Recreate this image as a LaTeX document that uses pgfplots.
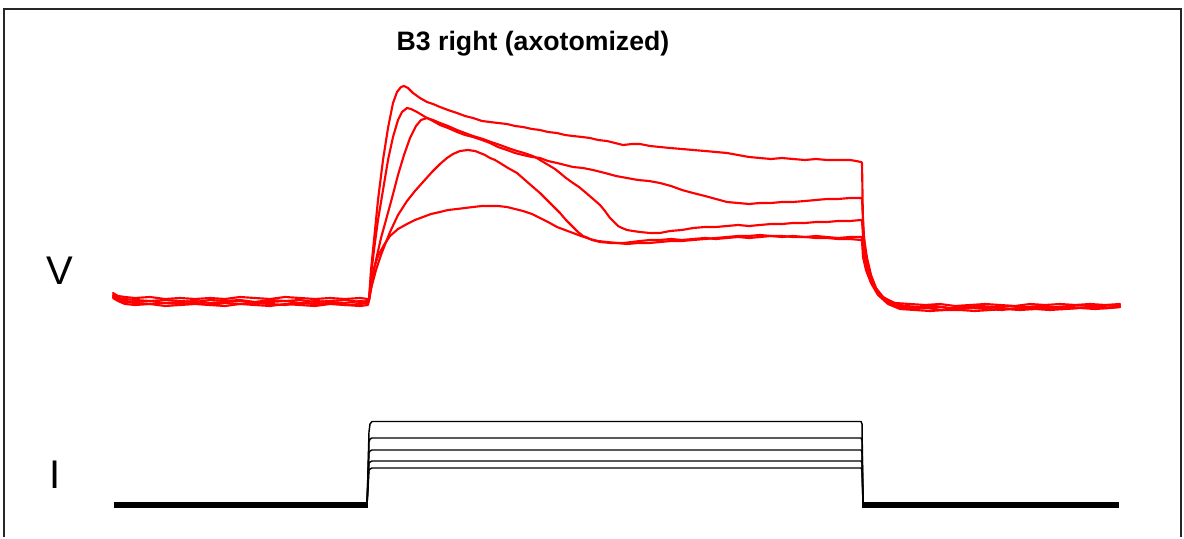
\documentclass[border=0pt]{standalone}
\usepackage{fontspec}
\setmainfont{Liberation Sans}
\usepackage{pgfplots}
\pgfplotsset{compat=1.18}
\definecolor{tr}{RGB}{255,0,0}
\begin{document}
\begin{tikzpicture}
\begin{axis}[
  scale only axis, width=888pt, height=402.75pt,
  xmin=0, xmax=1184, ymin=0, ymax=537, y dir=reverse,
  hide axis, clip=false,
  every axis plot/.append style={line join=round, line cap=round}
]
\path (axis cs:0,0) rectangle (axis cs:1184,537);
% frame
\draw[line width=1.6pt, black!85] (axis cs:4,537) -- (axis cs:4,9) -- (axis cs:1181,9) -- (axis cs:1181,537);
% labels
\node[anchor=base, font=\fontsize{20}{23}\selectfont\bfseries] at (axis cs:533,50.5) {B3 right (axotomized)};
\node[font=\fontsize{30}{34}\selectfont] at (axis cs:60,271) {V};
\node[font=\fontsize{30}{34}\selectfont] at (axis cs:55,475) {I};

% ---------------- voltage traces ----------------
\addplot[tr, line width=1.6pt] coordinates {
(113,293) (118,296) (125,297) (135,298) (150,297) (165,299) (180,298) (195,299) (210,298) (225,299) (240,297) (255,298) (270,299) (285,297) (300,298) (315,299) (330,298) (345,299) (360,298) (368,299)
(369,300) (371,270) (374,240) (378,200) (383,160) (388,128) (393,103) (397,92) (401,87) (404,86) (408,88) (413,93) (420,98) (427,102) (433,104) (440,107) (448,110) (457,113) (465,116) (473,118) (482,121) (490,122) (498,123) (507,124) (515,126) (523,127) (532,129) (540,130) (548,132) (557,133) (565,135) (573,136) (582,137) (590,138) (598,140) (607,141) (615,143) (623,145) (632,144) (640,144) (650,146) (660,147) (670,148) (682,149) (693,150) (705,151) (716,152) (727,153) (738,155) (749,157) (760,158) (771,159) (782,158) (793,159) (805,160) (816,159) (827,160) (838,160) (850,160) (856,161) (861,162)
(862,163) (863,225) (865,250) (868,266) (872,280) (877,291) (884,298) (895,303) (910,304) (925,305) (940,304) (955,306) (970,305) (985,304) (1000,305) (1015,306) (1030,304) (1045,305) (1060,304) (1075,305) (1090,304) (1105,305) (1120,304)
};
\addplot[tr, line width=1.6pt] coordinates {
(113,295) (118,298) (125,299) (135,300) (150,301) (165,300) (180,301) (195,302) (210,300) (225,301) (240,300) (255,302) (270,300) (285,301) (300,300) (315,302) (330,301) (345,300) (360,302) (368,301)
(369,300) (371,275) (374,250) (378,220) (383,190) (388,160) (393,137) (398,120) (402,112) (407,108) (411,109) (417,112) (422,115) (427,118) (433,121) (440,125) (448,128) (457,132) (465,135) (473,137) (482,140) (490,143) (498,147) (507,150) (515,153) (523,155) (532,157) (540,158) (548,161) (557,163) (565,165) (573,167) (583,168) (593,170) (605,173) (616,176) (627,178) (638,180) (649,181) (660,183) (671,186) (682,190) (693,193) (705,196) (716,199) (727,202) (738,203) (749,204) (760,203) (771,203) (782,202) (793,202) (805,201) (816,200) (827,199) (838,199) (850,198) (861,198)
(862,199) (864,238) (867,258) (871,275) (876,288) (883,297) (893,303) (905,306) (920,307) (935,306) (950,308) (965,307) (980,306) (995,307) (1010,306) (1025,307) (1040,306) (1055,307) (1070,306) (1085,305) (1100,306) (1120,305)
};
\addplot[tr, line width=1.6pt] coordinates {
(113,296) (118,299) (125,301) (135,302) (150,301) (165,303) (180,302) (195,301) (210,303) (225,302) (240,301) (255,303) (270,302) (285,301) (300,303) (315,301) (330,302) (345,303) (360,301) (368,302)
(369,300) (372,280) (376,260) (381,238) (386,220) (392,198) (398,175) (404,155) (410,138) (416,126) (421,120) (427,118) (433,120) (440,123) (448,126) (457,130) (465,133) (473,136) (483,139) (491,142) (500,145) (508,148) (517,151) (524,153) (530,155) (535,157) (540,160) (545,163) (550,166) (555,169) (560,173) (566,178) (573,183) (579,187) (585,192) (592,198) (600,205) (605,211) (610,218) (614,222) (618,226) (622,228) (627,230) (633,231) (640,232) (650,233) (660,233) (670,231) (682,230) (693,228) (705,227) (716,227) (727,226) (738,225) (749,226) (760,225) (771,224) (782,224) (793,223) (805,223) (816,222) (827,222) (838,221) (850,221) (861,220)
(862,221) (864,250) (867,267) (871,280) (877,292) (885,300) (897,306) (910,307) (925,308) (940,307) (955,309) (970,308) (985,307) (1000,308) (1015,309) (1030,307) (1045,308) (1060,307) (1075,308) (1090,307) (1105,308) (1120,307)
};
\addplot[tr, line width=1.6pt] coordinates {
(113,297) (118,300) (125,302) (135,303) (150,304) (165,303) (180,304) (195,303) (210,305) (225,303) (240,304) (255,303) (270,304) (285,305) (300,303) (315,304) (330,303) (345,305) (360,304) (368,303)
(369,300) (372,285) (376,270) (381,255) (386,242) (390,232) (398,215) (407,201) (415,191) (423,182) (432,172) (440,164) (447,158) (453,154) (460,151) (468,150) (475,151) (480,153) (485,155) (490,158) (495,160) (500,163) (508,168) (517,173) (525,180) (533,187) (540,193) (547,200) (553,206) (560,213) (566,220) (573,227) (578,232) (583,236) (588,238) (592,240) (600,242) (611,243) (623,243) (632,242) (640,241) (650,240) (660,240) (671,239) (682,240) (693,239) (705,238) (716,239) (727,238) (738,237) (749,238) (760,237) (771,236) (782,237) (793,236) (805,237) (816,236) (827,237) (838,238) (850,237) (861,237)
(862,238) (864,258) (867,272) (872,284) (878,294) (887,302) (898,307) (912,309) (927,308) (942,310) (957,309) (972,308) (987,309) (1002,310) (1017,308) (1032,309) (1047,308) (1062,309) (1077,308) (1092,307) (1107,308) (1120,306)
};
\addplot[tr, line width=1.6pt] coordinates {
(113,298) (118,301) (125,304) (135,305) (150,304) (165,306) (180,305) (195,304) (210,305) (225,306) (240,304) (255,305) (270,306) (285,304) (300,305) (315,306) (330,304) (345,305) (360,306) (368,305)
(369,300) (371,283) (374,268) (378,256) (384,245) (390,236) (398,229) (407,224) (415,220) (423,217) (431,214) (440,212) (448,210) (457,209) (465,208) (473,207) (482,206) (490,206) (498,206) (507,207) (515,209) (523,211) (532,214) (540,218) (548,222) (557,227) (565,230) (573,233) (581,236) (590,239) (598,241) (607,242) (617,243) (627,244) (638,243) (649,243) (660,242) (671,241) (682,241) (693,240) (705,239) (716,238) (727,237) (738,236) (749,236) (760,235) (771,236) (782,236) (793,237) (805,237) (816,238) (827,238) (838,239) (850,239) (861,240)
(862,241) (863,257) (866,270) (871,283) (878,295) (888,304) (900,309) (915,310) (930,311) (945,310) (960,310) (975,311) (990,310) (1005,309) (1020,310) (1035,309) (1050,310) (1065,309) (1080,308) (1095,309) (1110,308) (1120,307)
};

% ---------------- current traces ----------------
\addplot[black, line width=1.1pt] coordinates {(367,505) (368,470) (369,432) (370,424) (372,421.5) (861,421.5) (862,424) (863,505)};
\addplot[black, line width=1.1pt] coordinates {(367,505) (368,475) (369,442) (370,439) (372,438) (861,438) (862,440) (863,505)};
\addplot[black, line width=1.1pt] coordinates {(367,505) (368,480) (369,453) (370,451) (372,450) (861,450) (862,452) (863,505)};
\addplot[black, line width=1.1pt] coordinates {(367,505) (368,485) (369,463) (370,462) (372,461) (861,461) (862,463) (863,505)};
\addplot[black, line width=1.1pt] coordinates {(367,505) (368,488) (369,470) (370,469) (372,468) (861,468) (862,470) (863,505)};
\addplot[black, line width=3.8pt, line cap=butt] coordinates {(114,505) (368,505)};
\addplot[black, line width=3.8pt, line cap=butt] coordinates {(862,505) (1119,505)};
\end{axis}
\end{tikzpicture}
\end{document}
